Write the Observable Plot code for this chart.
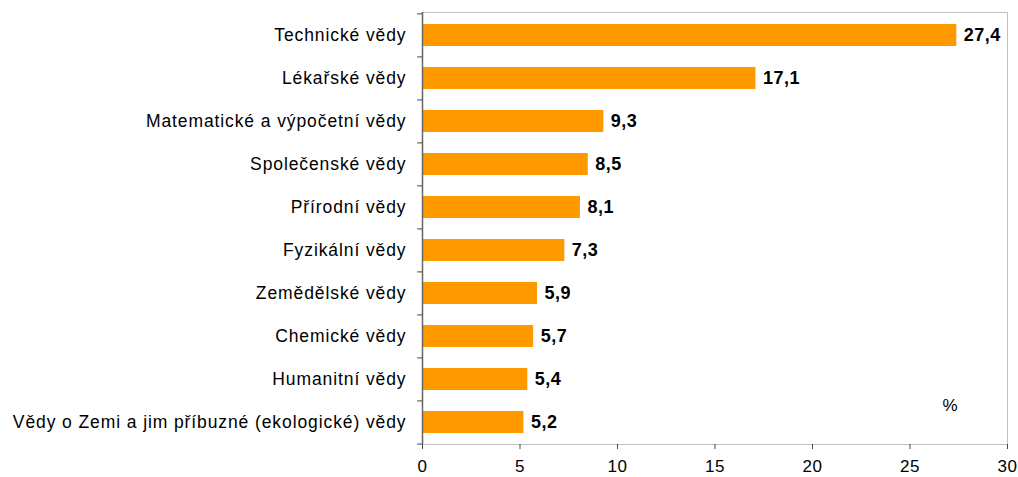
<!DOCTYPE html>
<html><head><meta charset="utf-8">
<script src="https://cdn.jsdelivr.net/npm/d3@7"></script>
<script src="https://cdn.jsdelivr.net/npm/@observablehq/plot@0.6"></script>
<style>
body{margin:0;background:#fff;} svg{display:block;}
g[aria-label="y-axis tick label"] text{letter-spacing:0.9px;}
g[aria-label="x-axis tick label"] text{letter-spacing:0.6px;}
g.vals text{letter-spacing:0.5px;}
</style>
</head><body><div id="chart"></div>
<script>
const categories = ["Technické vědy","Lékařské vědy","Matematické a výpočetní vědy","Společenské vědy","Přírodní vědy","Fyzikální vědy","Zemědělské vědy","Chemické vědy","Humanitní vědy","Vědy o Zemi a jim příbuzné (ekologické) vědy"];
const values = [27.4,17.1,9.3,8.5,8.1,7.3,5.9,5.7,5.4,5.2];
const labels = ["27,4","17,1","9,3","8,5","8,1","7,3","5,9","5,7","5,4","5,2"];
const xTicks = [0,5,10,15,20,25,30];
const unitLabel = "%";

const data = categories.map((c,i)=>({cat:c, v:values[i], lab:labels[i]}));
const W = 1018, H = 477, mT = 12, mB = 33, mL = 422, mR = 11;
const step = (H - mT - mB) / categories.length;

const chart = Plot.plot({
  width: W, height: H,
  marginLeft: mL, marginRight: mR, marginTop: mT, marginBottom: mB,
  style: {fontFamily: "'Liberation Sans', Arial, sans-serif", fontSize: "17px", color: "#000", background: "#fff"},
  x: {domain: [0,30], ticks: xTicks},
  y: {domain: categories, paddingInner: 0.49, paddingOuter: 0.245, align: 0.5},
  marks: [
    Plot.frame({stroke: "#c0c0c0"}),
    Plot.barX(data, {x: "v", y: "cat", fill: "#FF9900"}),
    Plot.ruleX([0], {stroke: "#666", strokeWidth: 1.5}),
    Plot.ruleY(categories, {y: d=>d, x1: -0.25, x2: 0, dy: -step/2, stroke: "#444"}),
    Plot.ruleY([categories[categories.length-1]], {y: d=>d, x1: -0.25, x2: 0, dy: step/2, stroke: "#444"}),
    Plot.axisX({ticks: xTicks, tickSize: 5, tickPadding: 10, stroke: "#444", fontSize: 17, tickFormat: d=>String(d), line: true, label: null}),
    Plot.axisY({tickSize: 0, tickPadding: 16, fontSize: 17.5, label: null}),
    Plot.text(data, {x: "v", y: "cat", text: "lab", textAnchor: "start", dx: 7, fontWeight: "bold", fontSize: 18, className: "vals"}),
    Plot.text([unitLabel], {x: 27.05, y: [categories[categories.length-1]], text: d=>d, dy: -17, fontSize: 17})
  ]
});
document.getElementById("chart").append(chart);
</script></body></html>
